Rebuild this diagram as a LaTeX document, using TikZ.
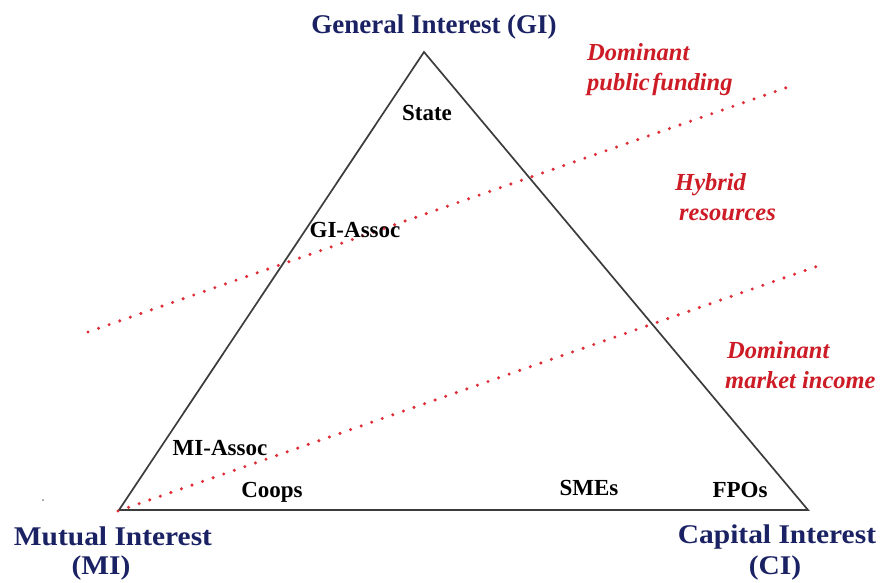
\documentclass[tikz,border=0pt]{standalone}
\usepackage{fontspec}
\setmainfont{Liberation Serif}
\newfontfamily\labfont{Liberation Serif}
\newfontfamily\widefont[FakeStretch=1.09]{Liberation Serif}
\definecolor{navy}{RGB}{26,34,100}
\definecolor{myred}{RGB}{205,28,38}
\definecolor{dotred}{RGB}{222,45,55}
\definecolor{edge}{RGB}{60,60,60}
\begin{document}
\begin{tikzpicture}[x=1pt,y=-1pt,
  title/.style={text=navy,font=\labfont\bfseries\fontsize{27}{30}\selectfont,inner sep=0pt,anchor=base},
  widetitle/.style={title,font=\widefont\bfseries\fontsize{27}{30}\selectfont},
  inlab/.style={text=black,font=\labfont\bfseries\fontsize{23}{26}\selectfont,inner sep=0pt,anchor=base},
  redlab/.style={text=myred,font=\labfont\bfseries\itshape\fontsize{24.5}{30}\selectfont,inner sep=0pt,anchor=base west},
  tri/.style={draw=edge,line width=1.7pt,line join=miter},
  dots/.style={draw=dotred,line width=3.4pt,line cap=round,dash pattern=on 0pt off 11.2pt}]
\useasboundingbox (0,0) rectangle (883,582);
\fill[white] (0,0) rectangle (883,582);
% triangle corners
\coordinate (GIc) at (424,52);
\coordinate (MIc) at (119,510);
\coordinate (CIc) at (808,510);
\draw[tri] (GIc) -- (MIc) -- (CIc) -- cycle;
% dotted separators
\coordinate (d1a) at (88,332);
\coordinate (d1b) at (791,86);
\coordinate (d2a) at (118,511);
\coordinate (d2b) at (818,266);
\draw[dots] (d1a) -- (d1b);
\draw[dots] (d2a) -- (d2b);
% stray dot
\fill[gray] (43,500) circle (1pt);
% titles
\node[title] (gi) at (434,33) {General Interest (GI)};
\node[widetitle] (mi1) at (113,545) {Mutual Interest};
\node[widetitle] (mi2) at (101,574) {(MI)};
\node[widetitle] (ci1) at (777,543) {Capital Interest};
\node[widetitle] (ci2) at (775,574) {(CI)};
% inner labels
\node[inlab] (state) at (427,120) {State};
\node[inlab] (giassoc) at (355,237) {GI-Assoc};
\node[inlab] (miassoc) at (220,455) {MI-Assoc};
\node[inlab] (coops) at (272,497) {Coops};
\node[inlab] (smes) at (589,495) {SMEs};
\node[inlab] (fpos) at (740,497) {FPOs};
% red labels
\node[redlab] (dom1) at (587,60) {Dominant};
\node[redlab] (dom1b) at (587,90) {public\hspace{0.1em}funding};
\node[redlab] (hyb) at (675,190) {Hybrid};
\node[redlab] (hybb) at (679,220) {resources};
\node[redlab] (dom2) at (727,358) {Dominant};
\node[redlab] (dom2b) at (725,388) {market income};
\end{tikzpicture}
\end{document}
